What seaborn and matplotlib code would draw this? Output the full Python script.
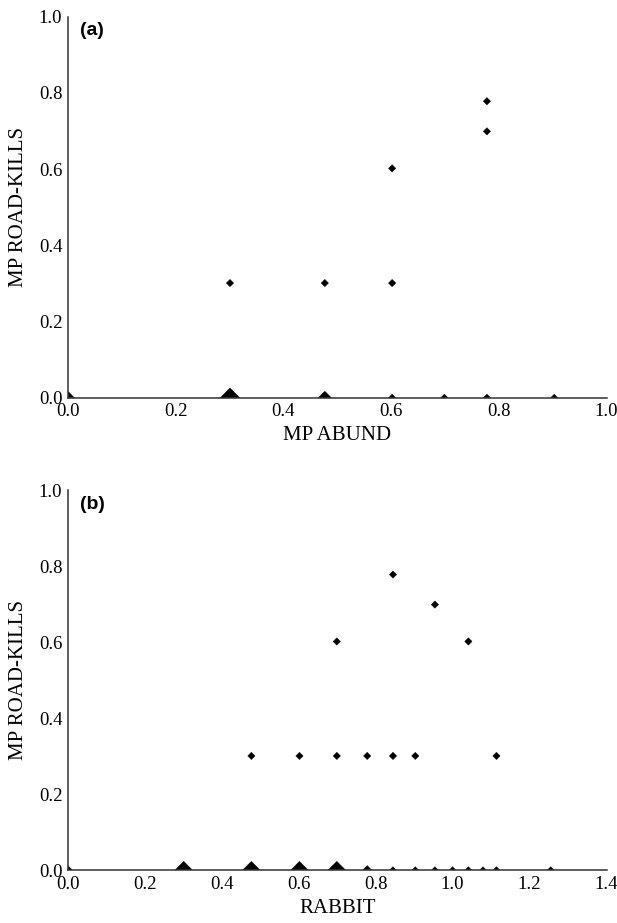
import numpy as np
import pandas as pd
import matplotlib
matplotlib.use('Agg')
import matplotlib.pyplot as plt
import seaborn as sns

# panel (a): MP abundance vs MP road-kills (log scale values), n = sites at that point
abund_x = [0.000, 0.301, 0.477, 0.602, 0.699, 0.778, 0.903,
           0.301, 0.477, 0.602, 0.602, 0.778, 0.778]
abund_y = [0.000, 0.000, 0.000, 0.000, 0.000, 0.000, 0.000,
           0.301, 0.301, 0.301, 0.602, 0.699, 0.778]
abund_n = [3, 6, 3, 1, 1, 1, 1,
           1, 1, 1, 1, 1, 1]

# panel (b): rabbit abundance vs MP road-kills
rabbit_x = [0.000, 0.301, 0.477, 0.602, 0.699, 0.778, 0.845, 0.903, 0.954, 1.000, 1.041, 1.079, 1.114, 1.255,
            0.477, 0.602, 0.699, 0.778, 0.845, 0.903, 1.114,
            0.699, 1.041, 0.954, 0.845]
rabbit_y = [0.000, 0.000, 0.000, 0.000, 0.000, 0.000, 0.000, 0.000, 0.000, 0.000, 0.000, 0.000, 0.000, 0.000,
            0.301, 0.301, 0.301, 0.301, 0.301, 0.301, 0.301,
            0.602, 0.602, 0.699, 0.778]
rabbit_n = [2, 5, 5, 5, 5, 2, 1, 1, 1, 1, 1, 1, 1, 1,
            1, 1, 1, 1, 1, 1, 1,
            1, 1, 1, 1]

df_a = pd.DataFrame({'x': abund_x, 'y': abund_y, 'n': abund_n})
df_b = pd.DataFrame({'x': rabbit_x, 'y': rabbit_y, 'n': rabbit_n})

sns.set_style('white')
plt.rcParams['font.family'] = ['Liberation Serif', 'DejaVu Serif']
plt.rcParams['text.color'] = 'black'
plt.rcParams['axes.labelcolor'] = 'black'
plt.rcParams['xtick.color'] = 'black'
plt.rcParams['ytick.color'] = 'black'

fig = plt.figure(figsize=(6.17, 9.23), dpi=100)
ax_a = fig.add_axes([0.110, 0.569, 0.873, 0.413])
ax_b = fig.add_axes([0.110, 0.057, 0.873, 0.412])

size_map = {1: 14, 2: 24, 3: 45, 5: 85, 6: 100}

panels = [
    (ax_a, df_a, 'MP ABUND', (0, 1.0), np.arange(0, 1.01, 0.2), '(a)'),
    (ax_b, df_b, 'RABBIT', (0, 1.4), np.arange(0, 1.41, 0.2), '(b)'),
]

for ax, d, xlab, xlim, xt, tag in panels:
    sns.scatterplot(data=d, x='x', y='y', size='n', sizes=size_map, marker='D',
                    color='black', edgecolor='black', linewidth=0.3, legend=False, ax=ax)
    ax.set_xlim(*xlim)
    ax.set_ylim(0, 1.0)
    ax.set_xticks(xt)
    ax.set_yticks(np.arange(0, 1.01, 0.2))
    ax.set_xticklabels([f'{v:.1f}' for v in xt])
    ax.set_yticklabels([f'{v:.1f}' for v in np.arange(0, 1.01, 0.2)])
    ax.tick_params(length=0, labelsize=13.5, pad=4)
    for s in ['top', 'right']:
        ax.spines[s].set_visible(False)
    for s in ['left', 'bottom']:
        ax.spines[s].set_color('#333333')
        ax.spines[s].set_linewidth(1.1)
    ax.set_xlabel(xlab, fontsize=15, labelpad=4)
    ax.set_ylabel('MP ROAD-KILLS', fontsize=15, labelpad=8)
    ax.text(0.022, 0.985, tag, transform=ax.transAxes, ha='left', va='top',
            fontsize=14, fontweight='bold', family=['Liberation Sans', 'DejaVu Sans'])

fig.savefig('out.png', dpi=100)
